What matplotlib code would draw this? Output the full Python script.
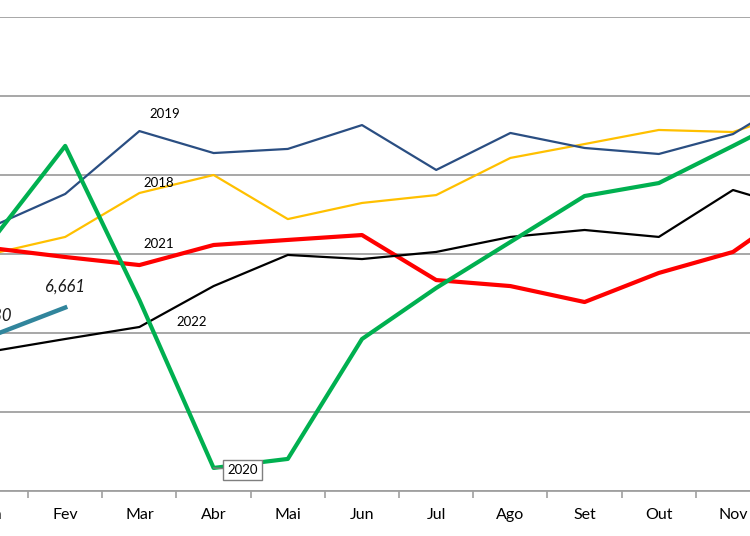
import matplotlib
matplotlib.use("Agg")
import matplotlib.pyplot as plt

months = ["Jan", "Fev", "Mar", "Abr", "Mai", "Jun", "Jul", "Ago", "Set", "Out", "Nov", "Dez"]
s2018 = [7000, 7108, 7386, 7500, 7221, 7323, 7373, 7608, 7696, 7785, 7772, 7930]
s2019 = [7171, 7380, 7778, 7639, 7665, 7816, 7532, 7766, 7671, 7633, 7759, 8044]
s2020 = [7078, 7684, 6709, 5646, 5703, 6462, 6785, 7076, 7367, 7449, 7684, 7924]
s2021 = [7038, 6981, 6930, 7057, 7089, 7120, 6835, 6797, 6696, 6880, 7013, 7342]
s2022 = [6383, 6462, 6538, 6797, 6994, 6968, 7013, 7108, 7152, 7108, 7405, 7266]
s2023 = [6480, 6661]
labels_2023 = ["6,480", "6,661"]

plt.rcParams['font.family'] = ['Lato', 'DejaVu Sans']

fig = plt.figure(figsize=(7.5, 5.36), dpi=100)
step = 74.2
ax = fig.add_axes([(-9 - step / 2) / 750, 45 / 536, 12 * step / 750, 474 / 536])
x = list(range(len(months)))

ax.plot(x, s2018, color="#FFC000", lw=1.6, zorder=3)
ax.plot(x, s2019, color="#2A4E82", lw=1.6, zorder=3)
ax.plot(x, s2021, color="#FF0000", lw=3.0, zorder=4)
ax.plot(x, s2022, color="#000000", lw=1.6, zorder=4)
ax.plot(x, s2020, color="#00B050", lw=3.0, zorder=5)
ax.plot(x[:len(s2023)], s2023, color="#31859C", lw=3.2, zorder=6)

for i, (v, lab) in enumerate(zip(s2023, labels_2023)):
    ax.annotate(lab, (i, v), xytext=(0, 21), textcoords="offset pixels",
                ha="center", va="center", fontsize=12, style="italic", color="#1a1a1a",
                annotation_clip=False)

ax.annotate("2019", (2, s2019[2]), xytext=(25, 17), textcoords="offset pixels",
            ha="center", va="center", fontsize=9.5)
ax.annotate("2018", (2, s2018[2]), xytext=(19, 10), textcoords="offset pixels",
            ha="center", va="center", fontsize=9.5)
ax.annotate("2021", (2, s2021[2]), xytext=(19, 21), textcoords="offset pixels",
            ha="center", va="center", fontsize=9.5)
ax.annotate("2022", (2, s2022[2]), xytext=(52, 5), textcoords="offset pixels",
            ha="center", va="center", fontsize=9.5)
ax.annotate("2020", (3, s2020[3]), xytext=(29, -2), textcoords="offset pixels",
            ha="center", va="center", fontsize=9.5, zorder=7,
            bbox=dict(boxstyle="square,pad=0.3", fc="white", ec="#7f7f7f", lw=1),
            arrowprops=dict(arrowstyle="-", color="#7f7f7f", lw=1, shrinkA=0, shrinkB=0))

ax.set_yticks([5500, 6000, 6500, 7000, 7500, 8000, 8500])
ax.yaxis.grid(True, color="#a0a0a0", lw=1.3)
ax.set_axisbelow(True)
ax.tick_params(axis="y", left=False, labelleft=False)

ax.set_xticks(x)
ax.set_xticklabels(months, fontsize=11.5)
ax.set_xticks([i + 0.5 for i in range(-1, 12)], minor=True)
ax.tick_params(axis="x", which="major", length=0, pad=12)
ax.tick_params(axis="x", which="minor", length=5, color="#a0a0a0", width=1.2)

ax.set_xlim(-0.5, 11.5)
ax.set_ylim(5500, 8500)

for side in ["top", "left", "right"]:
    ax.spines[side].set_visible(False)
ax.spines["bottom"].set_color("#a0a0a0")
ax.spines["bottom"].set_linewidth(1.3)

fig.savefig("out.png", dpi=100)
